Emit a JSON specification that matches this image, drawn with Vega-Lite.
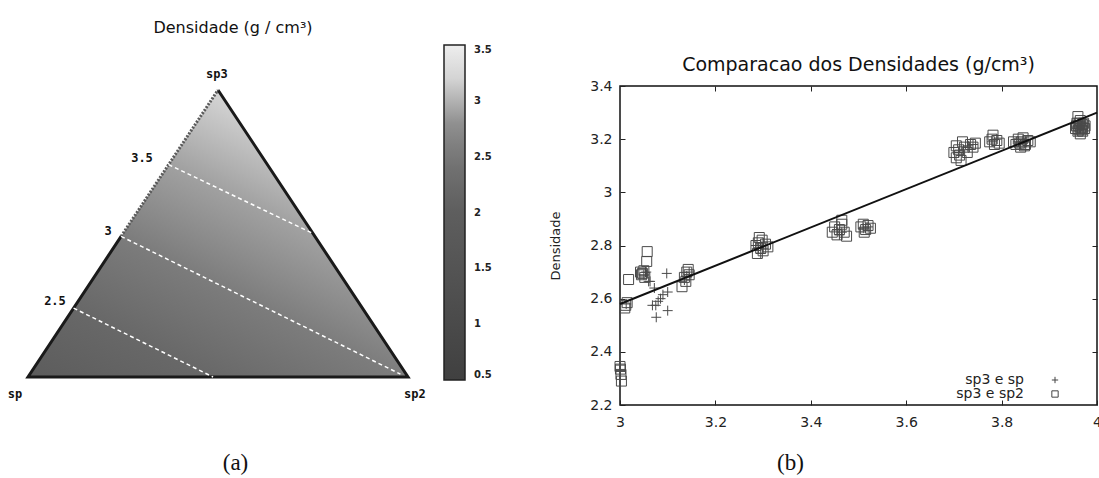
{
  "$schema": "https://vega.github.io/schema/vega-lite/v6.json",
  "background": "white",
  "padding": {"left": 0, "top": 19, "right": 0, "bottom": 0},
  "autosize": {"type": "pad"},
  "config": {"font": "DejaVu Sans", "view": {"stroke": null}},
  "spacing": 0,
  "bounds": "flush",
  "hconcat": [
    {
      "width": 620,
      "height": 319,
      "view": {"stroke": null, "fill": "white"},
      "title": {"text": "Densidade (g / cm³)", "anchor": "middle", "frame": "group", "dx": -77, "offset": 19, "baseline": "alphabetic", "fontSize": 16, "fontWeight": "normal", "font": "DejaVu Sans", "color": "#111"},
      "layer": [
        {
          "data": {"values": [{"v": 0, "l": 0, "r": 1}, {"v": 1, "l": 0.5, "r": 0.5}]},
          "mark": {"type": "area", "orient": "horizontal", "fill": {"gradient": "linear", "x1": -0.463, "y1": 0.689, "x2": 0.156, "y2": -0.232, "stops": [{"offset": 0, "color": "#5c5c5c"}, {"offset": 0.244, "color": "#686868"}, {"offset": 0.492, "color": "#7c7c7c"}, {"offset": 0.74, "color": "#a0a0a0"}, {"offset": 1, "color": "#d6d6d6"}]}},
          "encoding": {
            "y": {"field": "v", "type": "quantitative", "scale": {"domain": [-0.09756, 1.01394], "nice": false, "zero": false}, "axis": null},
            "x": {"field": "l", "type": "quantitative", "scale": {"domain": [-0.07368, 1.55789], "nice": false, "zero": false}, "axis": {"domain": false, "ticks": false, "labels": false, "grid": false, "title": "(a)", "titleFont": "Liberation Serif", "titleFontSize": 23, "titleFontWeight": "normal", "titleColor": "#111", "titleX": 235, "titleY": 64, "titleBaseline": "alphabetic", "titleAlign": "center"}},
            "x2": {"field": "r"}
          }
        },
        {
          "data": {"values": [{"ox": 0.245, "oy": 0.49, "k": 0}, {"ox": 0, "oy": 0, "k": 1}, {"ox": 1, "oy": 0, "k": 2}, {"ox": 0.5, "oy": 1, "k": 3}]},
          "mark": {"type": "line", "stroke": "#1a1a1a", "strokeWidth": 3, "strokeJoin": "miter"},
          "encoding": {
            "x": {"field": "ox", "type": "quantitative", "scale": {"domain": [-0.07368, 1.55789], "nice": false, "zero": false}, "axis": {"domain": false, "ticks": false, "labels": false, "grid": false, "title": "(a)", "titleFont": "Liberation Serif", "titleFontSize": 23, "titleFontWeight": "normal", "titleColor": "#111", "titleX": 235, "titleY": 64, "titleBaseline": "alphabetic", "titleAlign": "center"}},
            "y": {"field": "oy", "type": "quantitative", "scale": {"domain": [-0.09756, 1.01394], "nice": false, "zero": false}, "axis": null},
            "order": {"field": "k", "type": "quantitative"}
          }
        },
        {
          "data": {"values": [{"ox": 0.245, "oy": 0.49}, {"ox": 0.5, "oy": 1}]},
          "mark": {"type": "line", "stroke": "#5a5a5a", "strokeWidth": 3, "strokeDash": [2, 1.5]},
          "encoding": {
            "x": {"field": "ox", "type": "quantitative", "scale": {"domain": [-0.07368, 1.55789], "nice": false, "zero": false}, "axis": {"domain": false, "ticks": false, "labels": false, "grid": false, "title": "(a)", "titleFont": "Liberation Serif", "titleFontSize": 23, "titleFontWeight": "normal", "titleColor": "#111", "titleX": 235, "titleY": 64, "titleBaseline": "alphabetic", "titleAlign": "center"}},
            "y": {"field": "oy", "type": "quantitative", "scale": {"domain": [-0.09756, 1.01394], "nice": false, "zero": false}, "axis": null}
          }
        },
        {
          "data": {"values": [
            {"dens": 2.5, "x1": 0.12, "y1": 0.24, "x2": 0.487, "y2": 0.0},
            {"dens": 3.0, "x1": 0.245, "y1": 0.49, "x2": 0.98, "y2": 0.01},
            {"dens": 3.5, "x1": 0.37, "y1": 0.74, "x2": 0.75, "y2": 0.5}
          ]},
          "layer": [
            {
              "mark": {"type": "rule", "stroke": "white", "strokeWidth": 1.5, "strokeDash": [4, 3]},
              "encoding": {
                "x": {"field": "x1", "type": "quantitative", "scale": {"domain": [-0.07368, 1.55789], "nice": false, "zero": false}, "axis": {"domain": false, "ticks": false, "labels": false, "grid": false, "title": "(a)", "titleFont": "Liberation Serif", "titleFontSize": 23, "titleFontWeight": "normal", "titleColor": "#111", "titleX": 235, "titleY": 64, "titleBaseline": "alphabetic", "titleAlign": "center"}},
                "y": {"field": "y1", "type": "quantitative", "scale": {"domain": [-0.09756, 1.01394], "nice": false, "zero": false}, "axis": null},
                "x2": {"field": "x2"},
                "y2": {"field": "y2"}
              }
            },
            {
              "mark": {"type": "point", "opacity": 0},
              "encoding": {
                "x": {"field": "x1", "type": "quantitative", "scale": {"domain": [-0.07368, 1.55789], "nice": false, "zero": false}, "axis": {"domain": false, "ticks": false, "labels": false, "grid": false, "title": "(a)", "titleFont": "Liberation Serif", "titleFontSize": 23, "titleFontWeight": "normal", "titleColor": "#111", "titleX": 235, "titleY": 64, "titleBaseline": "alphabetic", "titleAlign": "center"}},
                "y": {"field": "y1", "type": "quantitative", "scale": {"domain": [-0.09756, 1.01394], "nice": false, "zero": false}, "axis": null},
                "color": {"field": "dens", "type": "quantitative",
                  "scale": {"type": "linear", "domain": [0.5, 2, 2.5, 2.98, 3.02, 3.5], "range": ["#404040", "#5e5e5e", "#767676", "#a0a0a0", "#c4c4c4", "#eeeeee"]},
                  "legend": {"orient": "none", "legendX": 444, "legendY": -41, "direction": "vertical", "title": null, "gradientLength": 335, "gradientThickness": 21, "gradientStrokeColor": "#222", "gradientStrokeWidth": 1.5, "values": [0.5, 1, 1.5, 2, 2.5, 3, 3.5], "format": "~g", "labelFont": "DejaVu Sans", "labelFontSize": 10, "labelFontWeight": "bold", "labelColor": "#222", "labelOffset": 9, "labelBaseline": "middle", "labelOverlap": false, "padding": 0}
                }
              }
            }
          ]
        },
        {
          "data": {"values": [
            {"lab": "3.5", "tx": 0.3, "ty": 0.763},
            {"lab": "3", "tx": 0.211, "ty": 0.509},
            {"lab": "2.5", "tx": 0.071, "ty": 0.265},
            {"lab": "sp3", "tx": 0.497, "ty": 1.057},
            {"lab": "sp", "tx": -0.034, "ty": -0.058},
            {"lab": "sp2", "tx": 1.018, "ty": -0.059}
          ]},
          "mark": {"type": "text", "font": "DejaVu Sans Mono", "fontWeight": "bold", "fontSize": 12, "color": "#111", "baseline": "middle", "align": "center"},
          "encoding": {
            "x": {"field": "tx", "type": "quantitative", "scale": {"domain": [-0.07368, 1.55789], "nice": false, "zero": false}, "axis": {"domain": false, "ticks": false, "labels": false, "grid": false, "title": "(a)", "titleFont": "Liberation Serif", "titleFontSize": 23, "titleFontWeight": "normal", "titleColor": "#111", "titleX": 235, "titleY": 64, "titleBaseline": "alphabetic", "titleAlign": "center"}},
            "y": {"field": "ty", "type": "quantitative", "scale": {"domain": [-0.09756, 1.01394], "nice": false, "zero": false}, "axis": null},
            "text": {"field": "lab"}
          }
        }
      ]
    },
    {
      "width": 477,
      "height": 319,
      "view": {"stroke": "#111", "strokeWidth": 1.5},
      "title": {"text": "Comparacao dos Densidades (g/cm³)", "fontSize": 19, "fontWeight": "normal", "baseline": "alphabetic", "offset": -11, "anchor": "middle", "frame": "group", "color": "#111", "font": "DejaVu Sans"},
      "resolve": {"axis": {"x": "independent", "y": "independent"}},
      "layer": [
        {
          "data": {"values": [
            {"x": 3.000, "y": 2.345, "s": "sp3 e sp2"}, {"x": 3.002, "y": 2.315, "s": "sp3 e sp2"}, {"x": 3.003, "y": 2.290, "s": "sp3 e sp2"}, {"x": 3.001, "y": 2.335, "s": "sp3 e sp2"},
            {"x": 3.000, "y": 2.350, "s": "sp3 e sp"}, {"x": 3.001, "y": 2.330, "s": "sp3 e sp"},
            {"x": 3.012, "y": 2.575, "s": "sp3 e sp2"}, {"x": 3.015, "y": 2.585, "s": "sp3 e sp2"}, {"x": 3.010, "y": 2.565, "s": "sp3 e sp2"}, {"x": 3.018, "y": 2.672, "s": "sp3 e sp2"},
            {"x": 3.013, "y": 2.580, "s": "sp3 e sp"},
            {"x": 3.043, "y": 2.700, "s": "sp3 e sp2"}, {"x": 3.047, "y": 2.695, "s": "sp3 e sp2"}, {"x": 3.050, "y": 2.705, "s": "sp3 e sp2"}, {"x": 3.057, "y": 2.777, "s": "sp3 e sp2"}, {"x": 3.056, "y": 2.740, "s": "sp3 e sp2"}, {"x": 3.052, "y": 2.680, "s": "sp3 e sp2"}, {"x": 3.045, "y": 2.690, "s": "sp3 e sp2"},
            {"x": 3.050, "y": 2.690, "s": "sp3 e sp"}, {"x": 3.060, "y": 2.665, "s": "sp3 e sp"}, {"x": 3.055, "y": 2.700, "s": "sp3 e sp"},
            {"x": 3.063, "y": 2.665, "s": "sp3 e sp"}, {"x": 3.072, "y": 2.640, "s": "sp3 e sp"}, {"x": 3.068, "y": 2.575, "s": "sp3 e sp"}, {"x": 3.076, "y": 2.530, "s": "sp3 e sp"}, {"x": 3.080, "y": 2.590, "s": "sp3 e sp"}, {"x": 3.085, "y": 2.600, "s": "sp3 e sp"}, {"x": 3.090, "y": 2.615, "s": "sp3 e sp"}, {"x": 3.098, "y": 2.695, "s": "sp3 e sp"}, {"x": 3.100, "y": 2.625, "s": "sp3 e sp"}, {"x": 3.100, "y": 2.555, "s": "sp3 e sp"}, {"x": 3.075, "y": 2.575, "s": "sp3 e sp"},
            {"x": 3.130, "y": 2.645, "s": "sp3 e sp2"}, {"x": 3.135, "y": 2.680, "s": "sp3 e sp2"}, {"x": 3.140, "y": 2.700, "s": "sp3 e sp2"}, {"x": 3.143, "y": 2.710, "s": "sp3 e sp2"}, {"x": 3.145, "y": 2.690, "s": "sp3 e sp2"}, {"x": 3.138, "y": 2.665, "s": "sp3 e sp2"},
            {"x": 3.140, "y": 2.685, "s": "sp3 e sp"}, {"x": 3.145, "y": 2.700, "s": "sp3 e sp"}, {"x": 3.135, "y": 2.670, "s": "sp3 e sp"},
            {"x": 3.285, "y": 2.800, "s": "sp3 e sp2"}, {"x": 3.290, "y": 2.810, "s": "sp3 e sp2"}, {"x": 3.295, "y": 2.790, "s": "sp3 e sp2"}, {"x": 3.300, "y": 2.780, "s": "sp3 e sp2"}, {"x": 3.305, "y": 2.805, "s": "sp3 e sp2"}, {"x": 3.288, "y": 2.770, "s": "sp3 e sp2"}, {"x": 3.298, "y": 2.820, "s": "sp3 e sp2"}, {"x": 3.310, "y": 2.795, "s": "sp3 e sp2"}, {"x": 3.292, "y": 2.830, "s": "sp3 e sp2"},
            {"x": 3.290, "y": 2.790, "s": "sp3 e sp"}, {"x": 3.295, "y": 2.770, "s": "sp3 e sp"}, {"x": 3.300, "y": 2.810, "s": "sp3 e sp"}, {"x": 3.285, "y": 2.800, "s": "sp3 e sp"}, {"x": 3.300, "y": 2.790, "s": "sp3 e sp"},
            {"x": 3.445, "y": 2.850, "s": "sp3 e sp2"}, {"x": 3.450, "y": 2.870, "s": "sp3 e sp2"}, {"x": 3.455, "y": 2.840, "s": "sp3 e sp2"}, {"x": 3.460, "y": 2.860, "s": "sp3 e sp2"}, {"x": 3.465, "y": 2.880, "s": "sp3 e sp2"}, {"x": 3.470, "y": 2.850, "s": "sp3 e sp2"}, {"x": 3.475, "y": 2.835, "s": "sp3 e sp2"}, {"x": 3.465, "y": 2.895, "s": "sp3 e sp2"},
            {"x": 3.455, "y": 2.860, "s": "sp3 e sp"}, {"x": 3.465, "y": 2.850, "s": "sp3 e sp"}, {"x": 3.460, "y": 2.840, "s": "sp3 e sp"},
            {"x": 3.505, "y": 2.870, "s": "sp3 e sp2"}, {"x": 3.510, "y": 2.880, "s": "sp3 e sp2"}, {"x": 3.515, "y": 2.860, "s": "sp3 e sp2"}, {"x": 3.520, "y": 2.875, "s": "sp3 e sp2"}, {"x": 3.525, "y": 2.865, "s": "sp3 e sp2"}, {"x": 3.512, "y": 2.850, "s": "sp3 e sp2"},
            {"x": 3.510, "y": 2.865, "s": "sp3 e sp"}, {"x": 3.520, "y": 2.870, "s": "sp3 e sp"},
            {"x": 3.700, "y": 3.150, "s": "sp3 e sp2"}, {"x": 3.705, "y": 3.130, "s": "sp3 e sp2"}, {"x": 3.710, "y": 3.160, "s": "sp3 e sp2"}, {"x": 3.712, "y": 3.140, "s": "sp3 e sp2"}, {"x": 3.718, "y": 3.190, "s": "sp3 e sp2"}, {"x": 3.722, "y": 3.170, "s": "sp3 e sp2"}, {"x": 3.728, "y": 3.150, "s": "sp3 e sp2"}, {"x": 3.735, "y": 3.180, "s": "sp3 e sp2"}, {"x": 3.740, "y": 3.170, "s": "sp3 e sp2"}, {"x": 3.745, "y": 3.185, "s": "sp3 e sp2"}, {"x": 3.705, "y": 3.175, "s": "sp3 e sp2"}, {"x": 3.715, "y": 3.120, "s": "sp3 e sp2"},
            {"x": 3.710, "y": 3.150, "s": "sp3 e sp"}, {"x": 3.720, "y": 3.160, "s": "sp3 e sp"}, {"x": 3.730, "y": 3.175, "s": "sp3 e sp"}, {"x": 3.740, "y": 3.180, "s": "sp3 e sp"},
            {"x": 3.775, "y": 3.190, "s": "sp3 e sp2"}, {"x": 3.780, "y": 3.200, "s": "sp3 e sp2"}, {"x": 3.785, "y": 3.180, "s": "sp3 e sp2"}, {"x": 3.790, "y": 3.195, "s": "sp3 e sp2"}, {"x": 3.795, "y": 3.185, "s": "sp3 e sp2"}, {"x": 3.782, "y": 3.215, "s": "sp3 e sp2"},
            {"x": 3.780, "y": 3.190, "s": "sp3 e sp"}, {"x": 3.790, "y": 3.200, "s": "sp3 e sp"},
            {"x": 3.825, "y": 3.190, "s": "sp3 e sp2"}, {"x": 3.830, "y": 3.180, "s": "sp3 e sp2"}, {"x": 3.835, "y": 3.200, "s": "sp3 e sp2"}, {"x": 3.840, "y": 3.170, "s": "sp3 e sp2"}, {"x": 3.842, "y": 3.190, "s": "sp3 e sp2"}, {"x": 3.845, "y": 3.205, "s": "sp3 e sp2"}, {"x": 3.850, "y": 3.180, "s": "sp3 e sp2"}, {"x": 3.855, "y": 3.195, "s": "sp3 e sp2"}, {"x": 3.838, "y": 3.185, "s": "sp3 e sp2"}, {"x": 3.848, "y": 3.175, "s": "sp3 e sp2"}, {"x": 3.860, "y": 3.190, "s": "sp3 e sp2"},
            {"x": 3.835, "y": 3.190, "s": "sp3 e sp"}, {"x": 3.845, "y": 3.185, "s": "sp3 e sp"}, {"x": 3.850, "y": 3.190, "s": "sp3 e sp"},
            {"x": 3.955, "y": 3.240, "s": "sp3 e sp2"}, {"x": 3.958, "y": 3.260, "s": "sp3 e sp2"}, {"x": 3.960, "y": 3.230, "s": "sp3 e sp2"}, {"x": 3.962, "y": 3.250, "s": "sp3 e sp2"}, {"x": 3.965, "y": 3.270, "s": "sp3 e sp2"}, {"x": 3.966, "y": 3.245, "s": "sp3 e sp2"}, {"x": 3.968, "y": 3.235, "s": "sp3 e sp2"}, {"x": 3.970, "y": 3.255, "s": "sp3 e sp2"}, {"x": 3.972, "y": 3.260, "s": "sp3 e sp2"}, {"x": 3.974, "y": 3.240, "s": "sp3 e sp2"}, {"x": 3.960, "y": 3.285, "s": "sp3 e sp2"}, {"x": 3.965, "y": 3.220, "s": "sp3 e sp2"}, {"x": 3.970, "y": 3.230, "s": "sp3 e sp2"}, {"x": 3.975, "y": 3.250, "s": "sp3 e sp2"}, {"x": 3.957, "y": 3.250, "s": "sp3 e sp2"}, {"x": 3.963, "y": 3.260, "s": "sp3 e sp2"}, {"x": 3.969, "y": 3.245, "s": "sp3 e sp2"}, {"x": 3.962, "y": 3.235, "s": "sp3 e sp2"},
            {"x": 3.960, "y": 3.250, "s": "sp3 e sp"}, {"x": 3.965, "y": 3.245, "s": "sp3 e sp"}, {"x": 3.970, "y": 3.250, "s": "sp3 e sp"}, {"x": 3.960, "y": 3.240, "s": "sp3 e sp"}
          ]},
          "mark": {"type": "point", "filled": false, "strokeWidth": 1, "color": "#4a4a4a", "size": 100, "opacity": 1},
          "encoding": {
            "x": {"field": "x", "type": "quantitative", "scale": {"domain": [3, 4], "nice": false, "zero": false},
              "axis": {"orient": "bottom", "values": [3, 3.2, 3.4, 3.6, 3.8, 4], "format": "~g", "domain": false, "grid": false, "tickSize": -5, "tickColor": "#222", "tickWidth": 1, "labelPadding": 15, "labelFontSize": 14, "labelColor": "#222", "labelFont": "DejaVu Sans", "labelFlush": false, "labelOverlap": false, "title": "(b)", "titleFont": "Liberation Serif", "titleFontSize": 23, "titleFontWeight": "normal", "titleColor": "#111", "titleX": 170, "titleY": 64, "titleBaseline": "alphabetic", "titleAlign": "center"}},
            "y": {"field": "y", "type": "quantitative", "scale": {"domain": [2.2, 3.4], "nice": false, "zero": false},
              "axis": {"orient": "left", "values": [2.2, 2.4, 2.6, 2.8, 3, 3.2, 3.4], "format": "~g", "domain": false, "grid": false, "tickSize": -5, "tickColor": "#222", "tickWidth": 1, "labelPadding": 13, "labelFontSize": 14, "labelColor": "#222", "labelFont": "DejaVu Sans", "labelFlush": false, "labelOverlap": false, "title": "Densidade", "titleFontSize": 13, "titleFontWeight": "normal", "titleColor": "#222", "titlePadding": 27, "titleFont": "DejaVu Sans"}},
            "shape": {"field": "s", "type": "nominal", "scale": {"domain": ["sp3 e sp", "sp3 e sp2"], "range": ["M-1,0H1M0,-1V1", "square"]},
              "legend": {"orient": "none", "legendX": 1048, "legendY": 287, "title": null, "labelAlign": "right", "labelOffset": -38, "labelFontSize": 14, "labelFont": "DejaVu Sans", "labelColor": "#222", "symbolSize": 40, "symbolStrokeWidth": 1, "symbolStrokeColor": "#444", "rowPadding": 0, "padding": 0, "labelLimit": 300}}
          }
        },
        {
          "data": {"values": [{"x": 3, "y": 2.58}, {"x": 4, "y": 3.30}]},
          "mark": {"type": "line", "stroke": "#111", "strokeWidth": 2},
          "encoding": {
            "x": {"field": "x", "type": "quantitative", "scale": {"domain": [3, 4], "nice": false, "zero": false},
              "axis": {"orient": "top", "values": [3.2, 3.4, 3.6, 3.8], "labels": false, "domain": false, "grid": false, "tickSize": -5, "tickColor": "#222", "tickWidth": 1, "title": null}},
            "y": {"field": "y", "type": "quantitative", "scale": {"domain": [2.2, 3.4], "nice": false, "zero": false},
              "axis": {"orient": "right", "values": [2.4, 2.6, 2.8, 3, 3.2], "labels": false, "domain": false, "grid": false, "tickSize": -5, "tickColor": "#222", "tickWidth": 1, "title": null}}
          }
        }
      ]
    }
  ]
}
